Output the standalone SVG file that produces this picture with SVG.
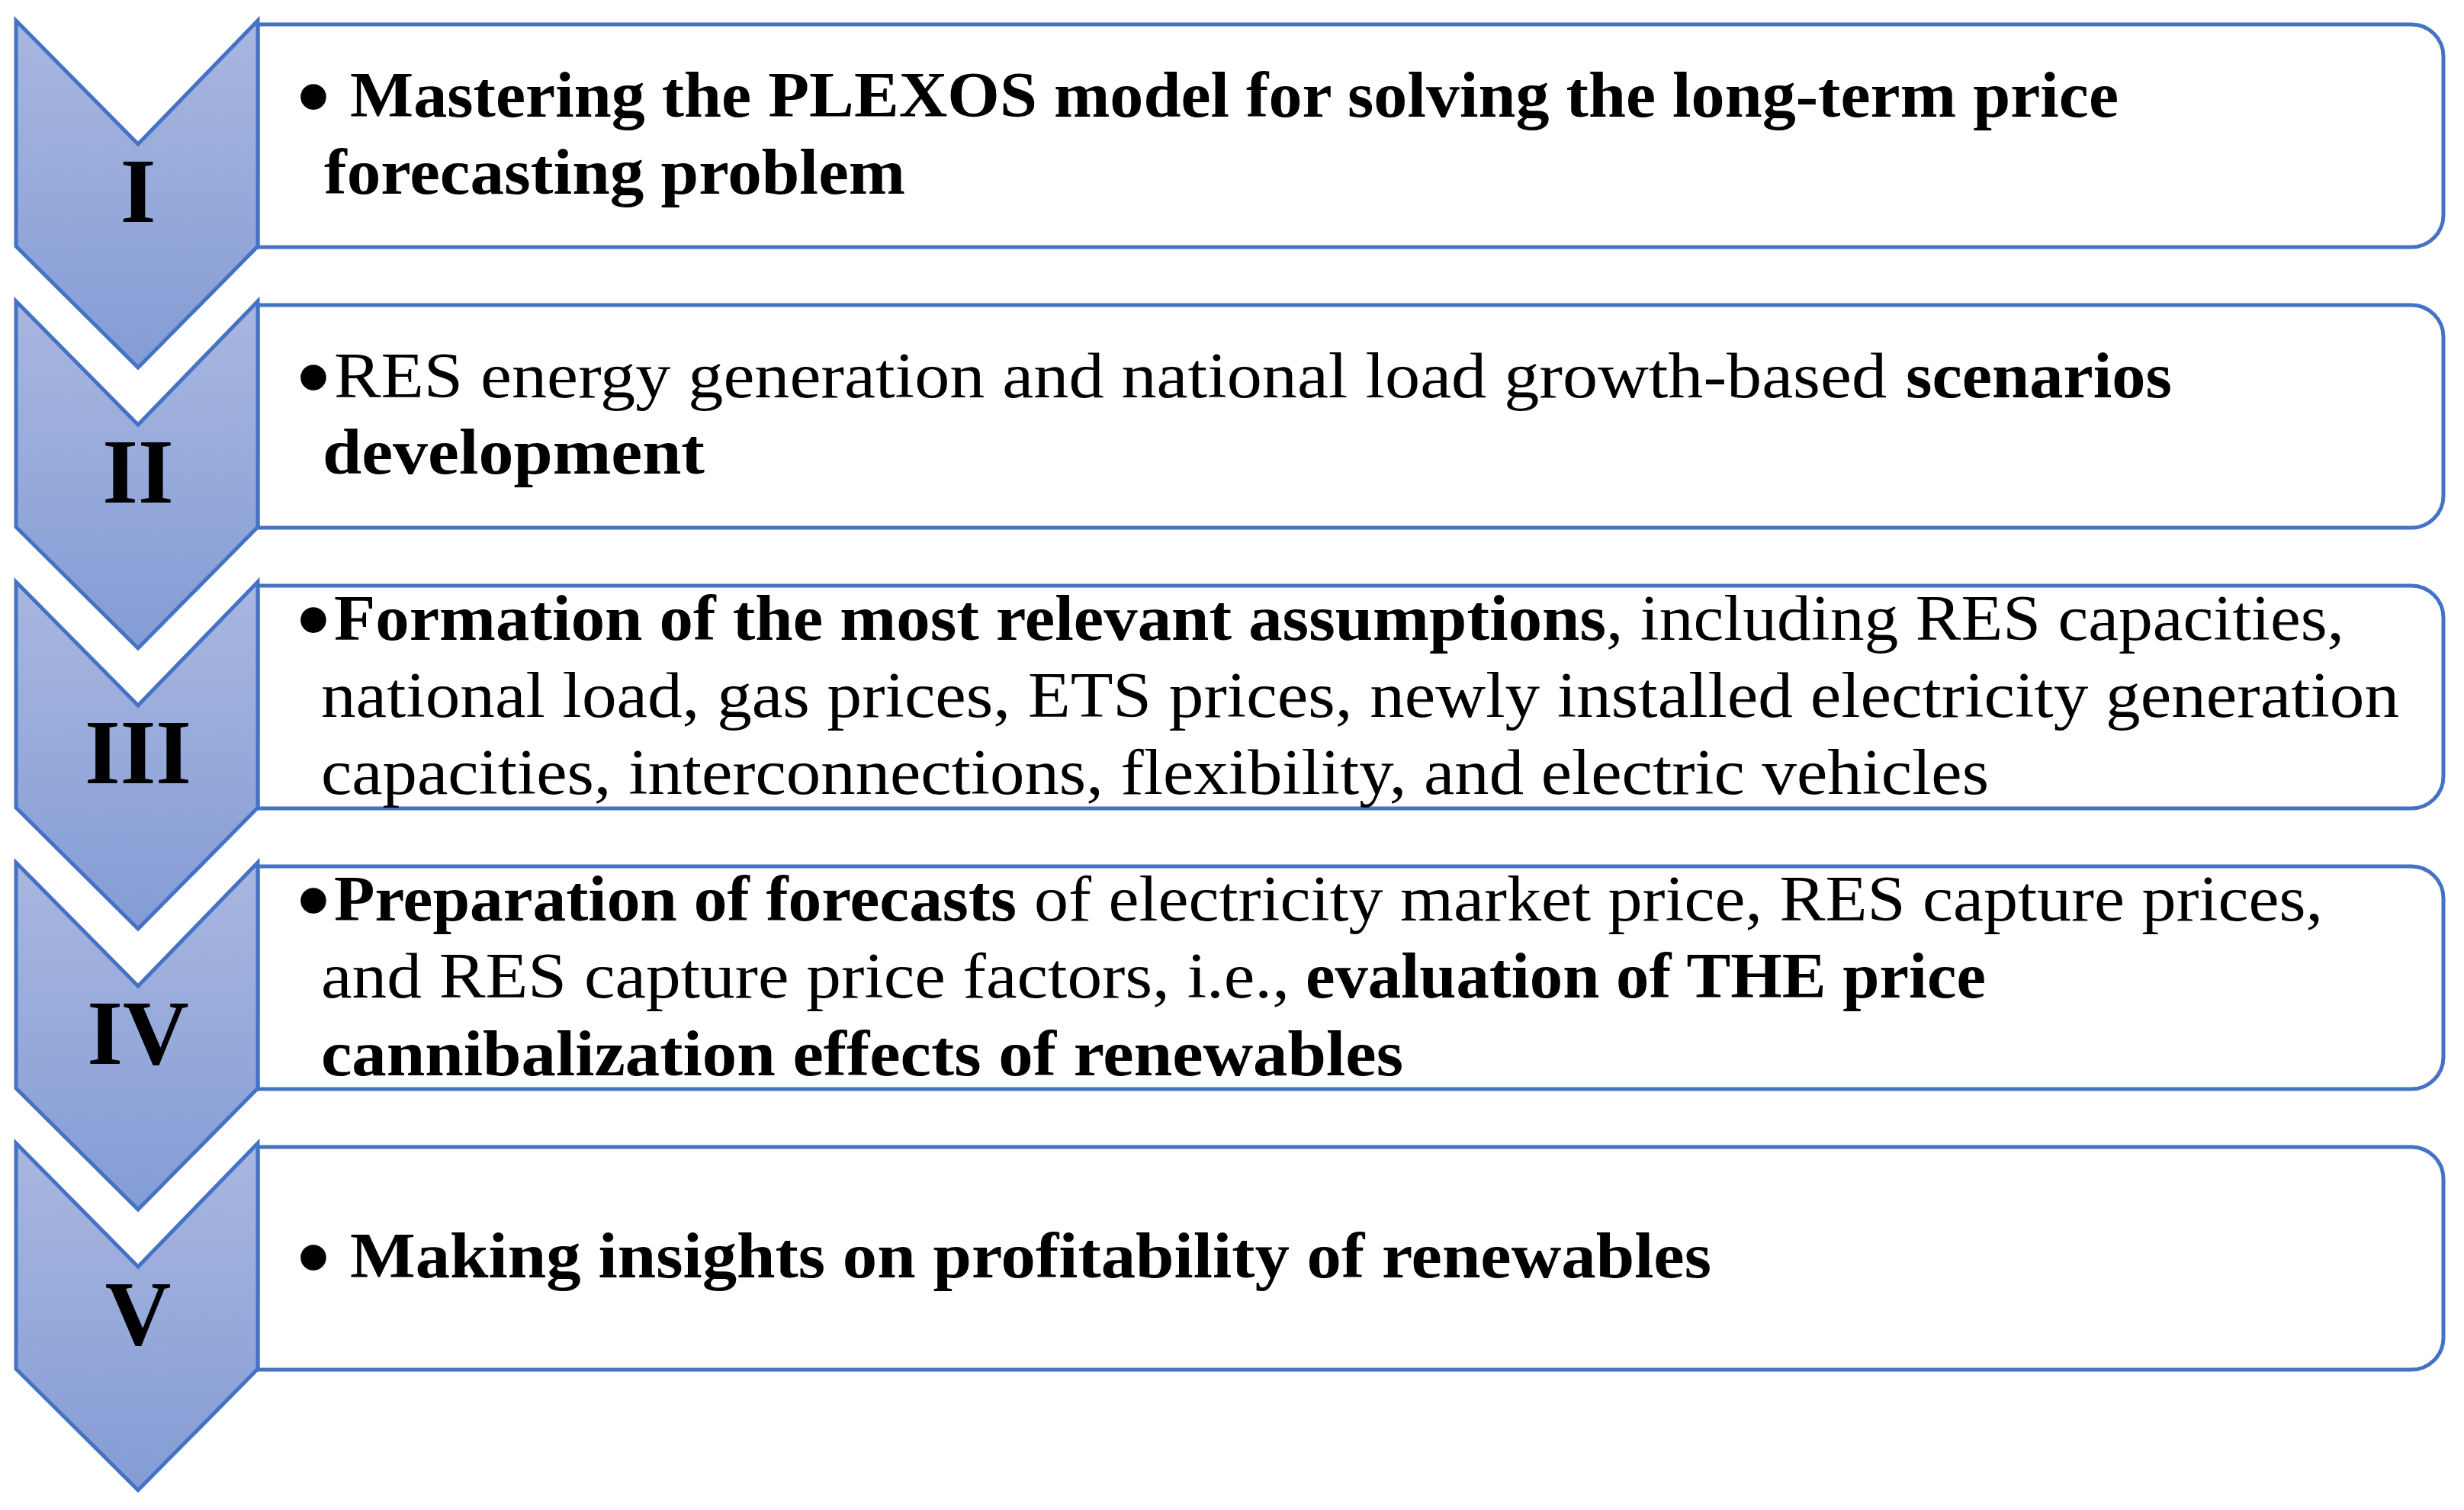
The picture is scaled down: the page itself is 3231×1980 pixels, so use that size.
<svg xmlns="http://www.w3.org/2000/svg" width="3231" height="1980" viewBox="0 0 3231 1980">
<defs>
<linearGradient id="chev" x1="0" y1="0" x2="0" y2="1">
<stop offset="0" stop-color="#A9B7E0"/>
<stop offset="1" stop-color="#849CD5"/>
</linearGradient>
<style>
.box{fill:#FFFFFF;stroke:#4472C4;stroke-width:5;}
.chev{fill:url(#chev);stroke:#4472C4;stroke-width:5;stroke-linejoin:miter;}
.num{font-family:"Liberation Serif",serif;font-weight:bold;font-size:120px;fill:#000;text-anchor:middle;}
.t{font-family:"Liberation Serif",serif;font-size:84px;fill:#000;}
.b{font-weight:bold;}
.bul{font-family:"Liberation Serif",serif;font-weight:bold;font-size:124px;fill:#000;text-anchor:middle;}
</style>
</defs>
<rect width="3231" height="1980" fill="#FFFFFF"/>

<g id="step1">
<path class="box" d="M338,32 H3162 A42,42 0 0 1 3204,74 V282 A42,42 0 0 1 3162,324 H338 Z"/>
<path class="chev" d="M21,27 L181,189 L338,27 L338,323 L181,482 L21,323 Z"/>
<text class="num" x="181" y="291">I</text>
<text class="bul" x="411" y="169">•</text>
<text class="t b" x="459" y="153" textLength="2319" lengthAdjust="spacingAndGlyphs">Mastering the PLEXOS model for solving the long-term price</text>
<text class="t b" x="425" y="254" textLength="762" lengthAdjust="spacingAndGlyphs">forecasting problem</text>
</g>

<g id="step2">
<path class="box" d="M338,400 H3162 A42,42 0 0 1 3204,442 V650 A42,42 0 0 1 3162,692 H338 Z"/>
<path class="chev" d="M21,395 L181,557 L338,395 L338,691 L181,850 L21,691 Z"/>
<text class="num" x="181" y="659">II</text>
<text class="bul" x="411" y="537">•</text>
<text class="t" x="438" y="521" textLength="2036" lengthAdjust="spacingAndGlyphs">RES energy generation and national load growth-based</text>
<text class="t b" x="2499" y="521" textLength="349" lengthAdjust="spacingAndGlyphs">scenarios</text>
<text class="t b" x="423" y="621" textLength="501" lengthAdjust="spacingAndGlyphs">development</text>
</g>

<g id="step3">
<path class="box" d="M338,768 H3162 A42,42 0 0 1 3204,810 V1018 A42,42 0 0 1 3162,1060 H338 Z"/>
<path class="chev" d="M21,763 L181,925 L338,763 L338,1059 L181,1218 L21,1059 Z"/>
<text class="num" x="181" y="1027">III</text>
<text class="bul" x="411" y="855">•</text>
<text class="t b" x="438" y="839" textLength="1668" lengthAdjust="spacingAndGlyphs">Formation of the most relevant assumptions</text>
<text class="t" x="2106" y="839" textLength="968" lengthAdjust="spacingAndGlyphs">, including RES capacities,</text>
<text class="t" x="421" y="940" textLength="2725" lengthAdjust="spacingAndGlyphs">national load, gas prices, ETS prices, newly installed electricity generation</text>
<text class="t" x="421" y="1041" textLength="2187" lengthAdjust="spacingAndGlyphs">capacities, interconnections, flexibility, and electric vehicles</text>
</g>

<g id="step4">
<path class="box" d="M338,1136 H3162 A42,42 0 0 1 3204,1178 V1386 A42,42 0 0 1 3162,1428 H338 Z"/>
<path class="chev" d="M21,1131 L181,1293 L338,1131 L338,1427 L181,1586 L21,1427 Z"/>
<text class="num" x="181" y="1395">IV</text>
<text class="bul" x="411" y="1223">•</text>
<text class="t b" x="438" y="1207" textLength="895" lengthAdjust="spacingAndGlyphs">Preparation of forecasts</text>
<text class="t" x="1356" y="1207" textLength="1690" lengthAdjust="spacingAndGlyphs">of electricity market price, RES capture prices,</text>
<text class="t" x="421" y="1308" textLength="1270" lengthAdjust="spacingAndGlyphs">and RES capture price factors, i.e.,</text>
<text class="t b" x="1712" y="1308" textLength="892" lengthAdjust="spacingAndGlyphs">evaluation of THE price</text>
<text class="t b" x="421" y="1410" textLength="1419" lengthAdjust="spacingAndGlyphs">cannibalization effects of renewables</text>
</g>

<g id="step5">
<path class="box" d="M338,1504 H3162 A42,42 0 0 1 3204,1546 V1754 A42,42 0 0 1 3162,1796 H338 Z"/>
<path class="chev" d="M21,1499 L181,1661 L338,1499 L338,1795 L181,1954 L21,1795 Z"/>
<text class="num" x="181" y="1763">V</text>
<text class="bul" x="411" y="1691">•</text>
<text class="t b" x="459" y="1675" textLength="1785" lengthAdjust="spacingAndGlyphs">Making insights on profitability of renewables</text>
</g>

<g id="connectors"></g>
</svg>
